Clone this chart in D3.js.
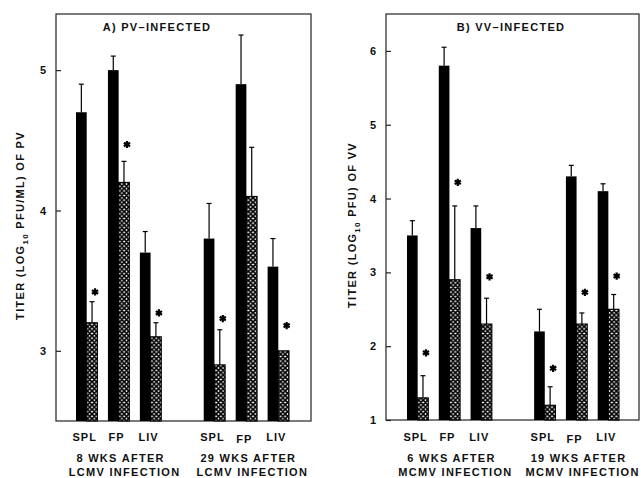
<!DOCTYPE html>
<html lang="en">
<head>
  <script src="https://cdn.jsdelivr.net/npm/d3@7"></script>
  <style>
    body { margin: 0; background: #fff; }
    text { font-family: "Liberation Sans", Arial, sans-serif; font-weight: bold; fill: #111; }
  </style>
</head>
<body>
<svg id="chart" width="641" height="478"></svg>
<script type="text/javascript">
  // bar categories & groups
  var organs = ["SPL", "FP", "LIV"];
  var slots = [0, 1, 2, 4, 5, 6];   // slot 3 is the gap between the two time points

  // panel A: PV
  var pvGroups = [["8 WKS AFTER", "LCMV INFECTION"], ["29 WKS AFTER", "LCMV INFECTION"]];
  var pvControl = [4.7, 5.0, 3.7, 3.8, 4.9, 3.6];
  var pvControlErr = [4.9, 5.1, 3.85, 4.05, 5.25, 3.8];
  var pvImmune = [3.2, 4.2, 3.1, 2.9, 4.1, 3.0];
  var pvImmuneErr = [3.35, 4.35, 3.2, 3.15, 4.45, 3.0];
  var pvStars = [3.42, 4.47, 3.27, 3.23, null, 3.18];
  var pvTicks = [3, 4, 5];

  // panel B: VV
  var vvGroups = [["6 WKS AFTER", "MCMV INFECTION"], ["19 WKS AFTER", "MCMV INFECTION"]];
  var vvControl = [3.5, 5.8, 3.6, 2.2, 4.3, 4.1];
  var vvControlErr = [3.7, 6.05, 3.9, 2.5, 4.45, 4.2];
  var vvImmune = [1.3, 2.9, 2.3, 1.2, 2.3, 2.5];
  var vvImmuneErr = [1.6, 3.9, 2.65, 1.45, 2.45, 2.7];
  var vvStars = [1.91, 4.22, 2.94, 1.7, 2.73, 2.95];
  var vvTicks = [1, 2, 3, 4, 5, 6];

  var svg = d3.select("#chart");

  // cross-hatch pattern
  var pat = svg.append("defs").append("pattern")
    .attr("id", "hatch").attr("patternUnits", "userSpaceOnUse")
    .attr("width", 4.6).attr("height", 4.6);
  pat.append("rect").attr("width", 4.6).attr("height", 4.6).attr("fill", "#fff");
  pat.append("path")
    .attr("d", "M0,0L4.6,4.6M4.6,0L0,4.6M-1,3.6L1,5.6M3.6,-1L5.6,1M-1,1L1,-1M3.6,5.6L5.6,3.6")
    .attr("stroke", "#000").attr("stroke-width", 1.7);

  function panel(o) {
    var g = svg.append("g");
    var y = d3.scaleLinear().domain(o.domain).range([o.y1, o.y0]);
    var x = d3.scaleBand().domain(d3.range(7)).range(o.barRange).paddingInner(0.33);
    var bw = x.bandwidth() / 2;

    // frame
    g.append("rect")
      .attr("x", o.x0).attr("y", o.y0)
      .attr("width", o.x1 - o.x0).attr("height", o.y1 - o.y0)
      .attr("fill", "none").attr("stroke", "#222").attr("stroke-width", 1.2);

    // y axis, ticks pointing inward
    var ax = g.append("g")
      .attr("transform", "translate(" + o.x0 + ",0)")
      .call(d3.axisLeft(y).tickValues(o.ticks).tickFormat(d3.format("d"))
        .tickSize(-5).tickPadding(10));
    ax.select(".domain").remove();
    ax.selectAll("line").attr("stroke", "#222").attr("stroke-width", 1.2);
    ax.selectAll("text").style("font-size", "11px").attr("fill", "#111");

    var rows = slots.map(function (s, i) {
      return {
        slot: s, organ: organs[i % 3],
        c: o.control[i], ce: o.controlErr[i],
        m: o.immune[i], me: o.immuneErr[i], star: o.stars[i]
      };
    });

    // black bars
    g.selectAll(".ctl").data(rows).enter().append("rect")
      .attr("x", function (d) { return x(d.slot); })
      .attr("y", function (d) { return y(d.c); })
      .attr("width", bw)
      .attr("height", function (d) { return y(o.domain[0]) - y(d.c); })
      .attr("fill", "#000");

    // hatched bars
    g.selectAll(".imm").data(rows).enter().append("rect")
      .attr("x", function (d) { return x(d.slot) + bw; })
      .attr("y", function (d) { return y(d.m); })
      .attr("width", bw)
      .attr("height", function (d) { return y(o.domain[0]) - y(d.m); })
      .attr("fill", "url(#hatch)").attr("stroke", "#000").attr("stroke-width", 1.1);

    // error bars (upper only)
    function errs(cls, off, val, top) {
      var e = g.selectAll("." + cls).data(rows.filter(function (d) { return d[top] > d[val]; }))
        .enter().append("g").attr("stroke", "#000").attr("stroke-width", 1.2);
      e.append("line")
        .attr("x1", function (d) { return x(d.slot) + off; })
        .attr("x2", function (d) { return x(d.slot) + off; })
        .attr("y1", function (d) { return y(d[val]); })
        .attr("y2", function (d) { return y(d[top]); });
      e.append("line")
        .attr("x1", function (d) { return x(d.slot) + off - 2.5; })
        .attr("x2", function (d) { return x(d.slot) + off + 2.5; })
        .attr("y1", function (d) { return y(d[top]); })
        .attr("y2", function (d) { return y(d[top]); });
    }
    errs("ec", bw / 2, "c", "ce");
    errs("em", bw * 1.5, "m", "me");

    // significance stars
    var star = "M0,-3.6V3.6M-3.1,-1.8L3.1,1.8M-3.1,1.8L3.1,-1.8";
    g.selectAll(".star").data(rows.filter(function (d) { return d.star != null; }))
      .enter().append("path")
      .attr("transform", function (d) {
        return "translate(" + (x(d.slot) + bw * 1.5 + 3) + "," + y(d.star) + ")";
      })
      .attr("d", star).attr("stroke", "#000").attr("stroke-width", 2.2);

    // organ labels
    g.selectAll(".org").data(rows).enter().append("text")
      .attr("x", function (d) { return x(d.slot) + bw - 2; })
      .attr("y", function (d) { return d.organ === "FP" && d.slot > 3 ? 443 : 441; })
      .attr("text-anchor", "middle").style("font-size", "11px")
      .style("letter-spacing", "1px")
      .text(function (d) { return d.organ; });

    // group labels
    o.groups.forEach(function (lines, gi) {
      var cx = (x(gi * 4) + x(gi * 4 + 2) + x.bandwidth()) / 2 + 2;
      lines.forEach(function (t, li) {
        g.append("text")
          .attr("x", cx + (li ? 4 : 0)).attr("y", 462 + li * 14)
          .attr("text-anchor", "middle").style("font-size", "11px")
          .style("letter-spacing", "1.3px")
          .text(t);
      });
    });

    // title
    g.append("text").attr("x", o.titleX).attr("y", 31)
      .attr("text-anchor", "middle").style("font-size", "11px")
      .style("letter-spacing", "1.3px").text(o.title);

    // y label
    var yl = g.append("text")
      .attr("transform", "translate(" + o.labelX + "," + ((o.y0 + o.y1) / 2 + 8) + ") rotate(-90)")
      .attr("text-anchor", "middle").style("font-size", "11px")
      .style("letter-spacing", "1.3px");
    yl.append("tspan").text("TITER (LOG");
    yl.append("tspan").attr("dy", 4).style("font-size", "8px").text("10");
    yl.append("tspan").attr("dy", -4).text(" " + o.unit + ") OF " + o.virus);
  }

  panel({
    x0: 56, x1: 311, y0: 14, y1: 421, domain: [2.5, 5.4], ticks: pvTicks,
    barRange: [76, 289], control: pvControl, controlErr: pvControlErr,
    immune: pvImmune, immuneErr: pvImmuneErr, stars: pvStars, groups: pvGroups,
    title: "A) PV\u2013INFECTED", titleX: 157, labelX: 24, unit: "PFU/ML", virus: "PV"
  });
  panel({
    x0: 386, x1: 639, y0: 14, y1: 420, domain: [1, 6.5], ticks: vvTicks,
    barRange: [407, 619], control: vvControl, controlErr: vvControlErr,
    immune: vvImmune, immuneErr: vvImmuneErr, stars: vvStars, groups: vvGroups,
    title: "B) VV\u2013INFECTED", titleX: 511, labelX: 356, unit: "PFU", virus: "VV"
  });
</script>
</body>
</html>
